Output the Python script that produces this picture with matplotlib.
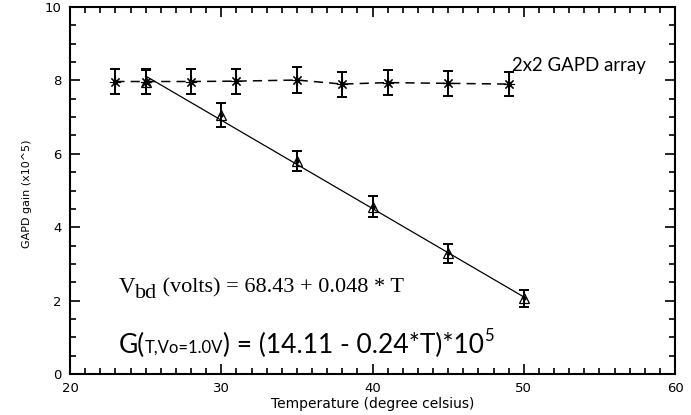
import numpy as np
import matplotlib
matplotlib.use("Agg")
import matplotlib.pyplot as plt
from matplotlib.ticker import MultipleLocator

# 2x2 GAPD array, gain vs temperature (asterisks, dashed)
array_T = [23, 25, 28, 31, 35, 38, 41, 45, 49]
array_gain = [7.97, 7.97, 7.97, 7.98, 8.01, 7.90, 7.94, 7.92, 7.90]
array_err = [0.33, 0.35, 0.33, 0.34, 0.36, 0.34, 0.34, 0.34, 0.33]

# single GAPD, fixed bias (triangles)
single_T = [25, 30, 35, 40, 45, 50]
single_gain = [7.96, 7.06, 5.80, 4.56, 3.29, 2.06]
single_err = [0.33, 0.33, 0.28, 0.29, 0.26, 0.24]

# linear fit line end points
fit_T = [25, 50]
fit_gain = [8.12, 2.10]

DPI = 100


def text_run(ax, fig, x, y, pieces):
    """Draw text pieces one after another starting at data point (x, y)."""
    renderer = fig.canvas.get_renderer()
    offset = 0.0
    for txt, size, dy, family in pieces:
        t = ax.annotate(txt, xy=(x, y), xycoords="data",
                        xytext=(offset, dy), textcoords="offset points",
                        fontsize=size, family=family, ha="left", va="baseline",
                        color="black")
        w = t.get_window_extent(renderer).width
        offset += w * 72.0 / DPI


fig = plt.figure(figsize=(6.91, 4.15), dpi=DPI)
ax = fig.add_axes([0.1013, 0.0988, 0.8756, 0.8843])

# fit line
ax.plot(fit_T, fit_gain, color="black", lw=0.9)

# array series
ax.plot(array_T, array_gain, color="black", lw=1.1, dashes=(6, 4))
ax.errorbar(array_T, array_gain, yerr=array_err, fmt="none", ecolor="black",
            elinewidth=1.4, capsize=3.6, capthick=1.4)
ax.plot(array_T, array_gain, ls="none", marker=(8, 2, 0), ms=8,
        mec="black", mew=0.8)
ax.plot(array_T, array_gain, ls="none", marker="o", ms=2.5, color="black")

# single series
ax.errorbar(single_T, single_gain, yerr=single_err, fmt="none", ecolor="black",
            elinewidth=1.4, capsize=3.6, capthick=1.4)
ax.plot(single_T, single_gain, ls="none", marker="^", ms=6.5,
        mfc="none", mec="black", mew=0.9)
ax.plot(single_T, single_gain, ls="none", marker="o", ms=2.2, color="black")

ax.set_xlim(20, 60)
ax.set_ylim(0, 10)
ax.xaxis.set_major_locator(MultipleLocator(10))
ax.xaxis.set_minor_locator(MultipleLocator(1))
ax.yaxis.set_major_locator(MultipleLocator(2))
ax.yaxis.set_minor_locator(MultipleLocator(0.5))
ax.tick_params(which="both", direction="in", top=True, right=True,
               width=1.2, labelsize=9.5, pad=6)
ax.tick_params(which="major", length=7)
ax.tick_params(which="minor", length=4)
for s in ax.spines.values():
    s.set_linewidth(1.5)

ax.set_xlabel("Temperature (degree celsius)", fontsize=10)
ax.set_ylabel("GAPD gain (x10^5)", fontsize=8)
ax.xaxis.set_label_coords(0.5, -0.063)
ax.yaxis.label.set_va("center")
ax.yaxis.set_label_coords(-0.071, 0.49)

ax.text(49.2, 8.4, "2x2 GAPD array", fontsize=13.4, family="Lato",
        ha="left", va="center")

text_run(ax, fig, 23.2, 2.21, [
    ("V", 16.5, 0, "Liberation Serif"),
    ("bd", 16, -4, "Liberation Serif"),
    (" (volts) = 68.43 + 0.048 * T", 16, 0, "Liberation Serif"),
])

text_run(ax, fig, 23.2, 0.57, [
    ("G(", 19, 0, "Lato"),
    ("T,Vo=1.0V", 12, 0, "Lato"),
    (") = (14.11 - 0.24*T)*10", 19, 0, "Lato"),
    ("5", 12, 9, "Lato"),
])

fig.savefig("out.png", dpi=DPI)
